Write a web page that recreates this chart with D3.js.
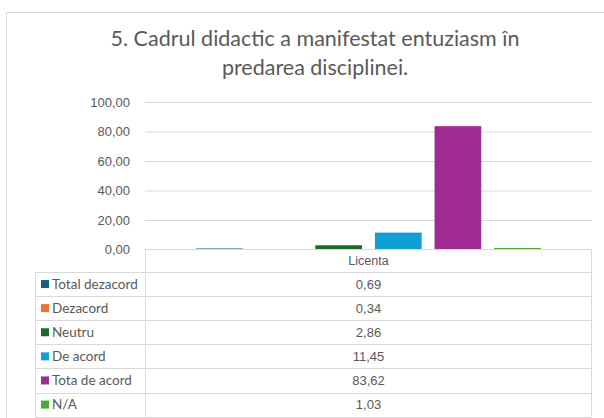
<!DOCTYPE html>
<html>
<head>
<meta charset="utf-8">
<script src="https://cdn.jsdelivr.net/npm/d3@7"></script>
<style>
  body { margin: 0; background: #fff; }
  text { font-family: Lato, "Open Sans", sans-serif; fill: #595959; }
</style>
</head>
<body>
<div id="chart"></div>
<script>
// chart data
var titleLines = ["5. Cadrul didactic a manifestat entuziasm în", "predarea disciplinei."];
var categories = ["Licenta"];
var seriesNames = ["Total dezacord", "Dezacord", "Neutru", "De acord", "Tota de acord", "N/A"];
var seriesValues = [0.69, 0.34, 2.86, 11.45, 83.62, 1.03];
var seriesColors = ["#156082", "#E97132", "#196B24", "#0F9ED5", "#A02B93", "#4EA72E"];
var yTicks = [0, 20, 40, 60, 80, 100];

var svgWidth = 604;
var svgHeight = 418;

var plot = { left: 145, right: 592, top: 102, bottom: 249.5 };
var legendLeft = 35;
var headerBottom = 272;
var rowHeight = 24.1;

var fmt = function(v) { return d3.format(".2f")(v).replace(".", ","); };

var svg = d3.select("#chart")
  .append("svg")
  .attr("width", svgWidth)
  .attr("height", svgHeight);

// chart frame
svg.append("rect")
  .attr("x", 6.5)
  .attr("y", 12.5)
  .attr("width", 640)
  .attr("height", 440)
  .attr("fill", "#fff")
  .attr("stroke", "#d9d9d9");

// title
svg.append("text")
  .attr("x", 315)
  .attr("y", 46)
  .attr("text-anchor", "middle")
  .style("font-size", "21.5px")
  .selectAll("tspan")
  .data(titleLines)
  .enter()
  .append("tspan")
  .attr("x", 315)
  .attr("dy", (d, i) => i === 0 ? 0 : 29)
  .text(d => d);

// scales
var yScale = d3.scaleLinear()
  .domain([0, 100])
  .range([plot.bottom, plot.top]);

var x0 = d3.scaleBand()
  .domain(categories)
  .range([plot.left, plot.right]);

var x1 = d3.scaleBand()
  .domain(seriesNames)
  .range([0, x0.bandwidth()])
  .paddingInner(0.216)
  .paddingOuter(0.858);

// gridlines + y labels
var yAxis = d3.axisLeft(yScale)
  .tickValues(yTicks.slice(1))
  .tickSize(-(plot.right - plot.left))
  .tickPadding(15)
  .tickFormat(fmt);

var yG = svg.append("g")
  .attr("transform", `translate(${plot.left}, 0)`)
  .call(yAxis);
yG.select(".domain").remove();
yG.selectAll(".tick line").attr("stroke", "#d9d9d9");
yG.selectAll("text")
  .style("font-size", "13px")
  .attr("fill", "#595959")
  .style("font-family", "Liberation Sans, Arial, sans-serif");

// zero label (its line is the table top border)
yG.append("text")
  .attr("x", -15)
  .attr("y", yScale(0))
  .attr("dy", "0.32em")
  .attr("text-anchor", "end")
  .style("font-size", "13px")
  .style("font-family", "Liberation Sans, Arial, sans-serif")
  .text(fmt(yTicks[0]));

// bars
var barData = seriesNames.map((s, i) => ({ name: s, value: seriesValues[i], color: seriesColors[i], cat: categories[0] }));

svg.append("g")
  .selectAll("rect")
  .data(barData)
  .enter()
  .append("rect")
  .attr("x", d => x0(d.cat) + x1(d.name))
  .attr("y", d => yScale(d.value))
  .attr("width", x1.bandwidth())
  .attr("height", d => yScale(0) - yScale(d.value))
  .attr("fill", d => d.color);

// data table
var table = svg.append("g");
var lineColor = "#d9d9d9";
var tableBottom = headerBottom + rowHeight * seriesNames.length;

// header row
table.append("line")
  .attr("x1", plot.left).attr("x2", plot.right)
  .attr("y1", yScale(0)).attr("y2", yScale(0))
  .attr("stroke", lineColor)
  .attr("stroke-width", 1.2);
table.append("text")
  .attr("x", x0(categories[0]) + x0.bandwidth() / 2)
  .attr("y", (plot.bottom + headerBottom) / 2 + 4.5)
  .attr("text-anchor", "middle")
  .style("font-size", "12.5px")
  .style("font-family", "Liberation Sans, Arial, sans-serif")
  .text(categories[0]);

// horizontal row lines
d3.range(seriesNames.length + 1).forEach(function(i) {
  var y = Math.round(headerBottom + rowHeight * i) + 0.5;
  table.append("line")
    .attr("x1", legendLeft).attr("x2", plot.right)
    .attr("y1", y).attr("y2", y)
    .attr("stroke", lineColor);
});

// vertical lines
table.append("line")
  .attr("x1", legendLeft + 0.5).attr("x2", legendLeft + 0.5)
  .attr("y1", headerBottom).attr("y2", tableBottom)
  .attr("stroke", lineColor);
table.append("line")
  .attr("x1", plot.left + 0.5).attr("x2", plot.left + 0.5)
  .attr("y1", plot.bottom).attr("y2", tableBottom)
  .attr("stroke", lineColor);
table.append("line")
  .attr("x1", plot.right - 0.5).attr("x2", plot.right - 0.5)
  .attr("y1", plot.bottom).attr("y2", tableBottom)
  .attr("stroke", lineColor);

// rows
var rows = table.selectAll(".row")
  .data(barData)
  .enter()
  .append("g")
  .attr("class", "row")
  .attr("transform", (d, i) => `translate(0, ${headerBottom + rowHeight * i + rowHeight / 2})`);

rows.append("rect")
  .attr("x", 41)
  .attr("y", -4)
  .attr("width", 8)
  .attr("height", 8)
  .attr("fill", d => d.color);

rows.append("text")
  .attr("x", 52)
  .attr("y", 4.5)
  .style("font-size", "13.5px")
  .text(d => d.name);

rows.append("text")
  .attr("x", x0(categories[0]) + x0.bandwidth() / 2)
  .attr("y", 4.5)
  .attr("text-anchor", "middle")
  .style("font-size", "13px")
  .style("font-family", "Liberation Sans, Arial, sans-serif")
  .text(d => fmt(d.value));
</script>
</body>
</html>
